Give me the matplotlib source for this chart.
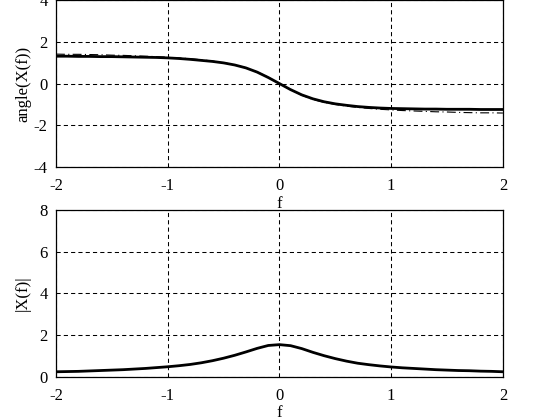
import matplotlib
matplotlib.use("Agg")
import matplotlib.pyplot as plt

plt.rcParams['font.family'] = ['Liberation Serif', 'DejaVu Serif']
plt.rcParams['axes.unicode_minus'] = False

f = [-2.0, -1.9, -1.8, -1.7, -1.6, -1.5, -1.4, -1.3, -1.2, -1.1, -1.0,
     -0.9, -0.8, -0.7, -0.6, -0.5, -0.4, -0.3, -0.2, -0.1, 0.0,
     0.1, 0.2, 0.3, 0.4, 0.5, 0.6, 0.7, 0.8, 0.9, 1.0,
     1.1, 1.2, 1.3, 1.4, 1.5, 1.6, 1.7, 1.8, 1.9, 2.0]

phase_num = [1.31, 1.31, 1.30, 1.30, 1.29, 1.29, 1.28, 1.27, 1.26, 1.25, 1.23,
             1.20, 1.16, 1.11, 1.06, 0.99, 0.89, 0.75, 0.55, 0.29, 0.0,
             -0.29, -0.54, -0.73, -0.87, -0.97, -1.04, -1.10, -1.14, -1.17, -1.19,
             -1.20, -1.21, -1.22, -1.22, -1.23, -1.23, -1.23, -1.24, -1.24, -1.24]

phase_exact = [1.41, 1.40, 1.40, 1.39, 1.38, 1.36, 1.35, 1.33, 1.31, 1.29, 1.26,
               1.23, 1.19, 1.14, 1.08, 1.00, 0.90, 0.76, 0.56, 0.30, 0.0,
               -0.30, -0.56, -0.76, -0.90, -1.00, -1.08, -1.14, -1.19, -1.23, -1.26,
               -1.29, -1.31, -1.33, -1.35, -1.36, -1.38, -1.39, -1.40, -1.40, -1.41]

mag = [0.25, 0.26, 0.27, 0.29, 0.31, 0.33, 0.35, 0.38, 0.41, 0.45, 0.49,
       0.54, 0.60, 0.68, 0.78, 0.90, 1.04, 1.20, 1.37, 1.51, 1.55,
       1.50, 1.36, 1.18, 1.02, 0.88, 0.76, 0.66, 0.59, 0.53, 0.48,
       0.44, 0.41, 0.38, 0.35, 0.33, 0.31, 0.30, 0.28, 0.27, 0.25]

xticks = [-2, -1, 0, 1, 2]
yticks_top = [-4, -2, 0, 2, 4]
yticks_bot = [0, 2, 4, 6, 8]

fig = plt.figure(figsize=(5.6, 4.2), dpi=100)
ax1 = fig.add_axes([0.1, 0.602, 0.798, 0.398])
ax2 = fig.add_axes([0.1, 0.1024, 0.798, 0.3976])

grid_kw = dict(color='black', linestyle=(0, (4, 3)), linewidth=0.75)

for ax in (ax1, ax2):
    ax.set_xlim(-2, 2)
    ax.set_xticks(xticks)
    ax.set_xticklabels([str(v) for v in xticks])
    ax.grid(True, **grid_kw)
    ax.tick_params(length=0, labelsize=12, pad=6)
    ax.tick_params(axis='x', pad=8)
    for s in ax.spines.values():
        s.set_linewidth(0.9)
        s.set_color('black')
    ax.set_axisbelow(True)

ax1.plot(f, phase_exact, color='black', linewidth=0.8, linestyle=(0, (8, 3, 1, 3)))
ax1.plot(f, phase_num, color='black', linewidth=2.0)
ax1.set_ylim(-4, 4)
ax1.set_yticks(yticks_top)
ax1.set_yticklabels([str(v) for v in yticks_top])
ax1.set_ylabel('angle(X(f))', fontsize=12, labelpad=2)
ax1.set_xlabel('f', fontsize=12, labelpad=1)

ax2.plot(f, mag, color='black', linewidth=2.0)
ax2.set_ylim(0, 8)
ax2.set_yticks(yticks_bot)
ax2.set_yticklabels([str(v) for v in yticks_bot])
ax2.set_ylabel('|X(f)|', fontsize=12, labelpad=6)
ax2.set_xlabel('f', fontsize=12, labelpad=1)

fig.savefig('out.png', dpi=100, facecolor='white')
